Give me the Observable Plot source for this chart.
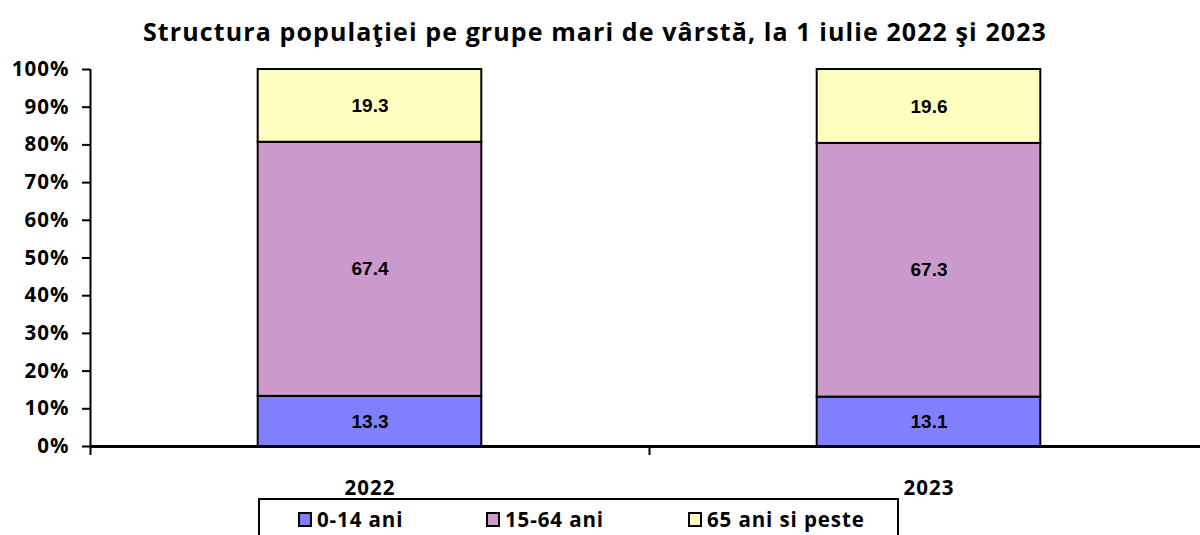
<!DOCTYPE html>
<html>
<head>
<meta charset="utf-8">
<script src="https://cdn.jsdelivr.net/npm/d3@7"></script>
<script src="https://cdn.jsdelivr.net/npm/@observablehq/plot@0.6"></script>
<style>
  html, body { margin: 0; padding: 0; background: #fff; }
  body { width: 1200px; height: 535px; overflow: hidden; position: relative; font-family: "Open Sans", sans-serif; }
  #title { position: absolute; left: 0; top: 0; width: 1190px; height: 50px; text-align: center; font: bold 25px "Open Sans", sans-serif; letter-spacing: 1.1px; line-height: 62px; color: #000; }
  #chart { position: absolute; left: 0; top: 50px; }
  #chart g[aria-label="y-axis tick label"] text, #chart g[aria-label="x-axis tick label"] text { letter-spacing: 1px; }
  #legend { position: absolute; left: 258px; top: 498px; width: 641px; height: 60px; border: 2px solid #000; box-sizing: border-box; background: #fff; }
  .item { position: absolute; top: 5px; font: bold 20.5px "Open Sans", sans-serif; letter-spacing: 0.9px; display: flex; align-items: center; }
  .sw { width: 10px; height: 11px; border: 2px solid #000; margin-right: 5px; }
</style>
</head>
<body>
<div id="title">Structura populaţiei pe grupe mari de vârstă, la 1 iulie 2022 şi 2023</div>
<div id="chart"></div>
<div id="legend"></div>
<script>
const years = ["2022", "2023"];
const groups = ["0-14 ani", "15-64 ani", "65 ani si peste"];
const colors = ["#8080ff", "#cc99cc", "#ffffc0"];
const values2022 = [13.3, 67.4, 19.3];
const values2023 = [13.1, 67.3, 19.6];
const yTicks = [0, 10, 20, 30, 40, 50, 60, 70, 80, 90, 100];

const series = [values2022, values2023];
const rows = [];
series.forEach((vals, i) => {
  let acc = 0;
  vals.forEach((v, j) => {
    rows.push({year: years[i], idx: i, group: groups[j], value: v, y1: acc, y2: acc + v});
    acc += v;
  });
});

const chart = Plot.plot({
  width: 1200,
  height: 470,
  marginLeft: 90,
  marginRight: -8,
  marginTop: 19,
  marginBottom: 74,
  style: {background: "#fff", overflow: "hidden"},
  x: {domain: [0, years.length], axis: null},
  y: {domain: [0, 100], axis: null},
  color: {domain: groups, range: colors},
  marks: [
    Plot.rect(rows, {
      x1: d => d.idx + 0.3, x2: d => d.idx + 0.7,
      y1: "y1", y2: "y2", fill: "group", stroke: "#000", strokeWidth: 2
    }),
    Plot.text(rows, {
      x: d => d.idx + 0.5, y: d => (d.y1 + d.y2) / 2,
      text: d => d.value.toFixed(1),
      fontFamily: "Liberation Sans, Arial, sans-serif", fontWeight: "bold", fontSize: 19, fill: "#000"
    }),
    Plot.axisY({
      ticks: yTicks, tickFormat: d => d + "%", tickSize: 8, tickPadding: 13,
      fontFamily: "Open Sans", fontWeight: "bold", fontSize: 20.5, stroke: "#000", strokeWidth: 2, color: "#000"
    }),
    Plot.ruleX([0], {y1: 0, y2: 100, stroke: "#000", strokeWidth: 2}),
    Plot.axisX({
      ticks: d3.range(years.length + 1), tickFormat: () => "", tickSize: 9, strokeWidth: 2, stroke: "#000"
    }),
    Plot.axisX({
      ticks: years.map((y, i) => i + 0.5), tickFormat: t => years[Math.floor(t)],
      tickSize: 0, tickPadding: 34, fontFamily: "Open Sans", fontWeight: "bold", fontSize: 20.5, color: "#000"
    }),
    Plot.ruleY([0], {stroke: "#000", strokeWidth: 3})
  ]
});
document.getElementById("chart").appendChild(chart);

const legend = document.getElementById("legend");
const lefts = [38, 226, 428];
groups.forEach((g, i) => {
  const it = document.createElement("div");
  it.className = "item";
  it.style.left = lefts[i] + "px";
  const sw = document.createElement("div");
  sw.className = "sw";
  sw.style.background = colors[i];
  it.appendChild(sw);
  it.appendChild(document.createTextNode(g));
  legend.appendChild(it);
});
</script>
</body>
</html>
